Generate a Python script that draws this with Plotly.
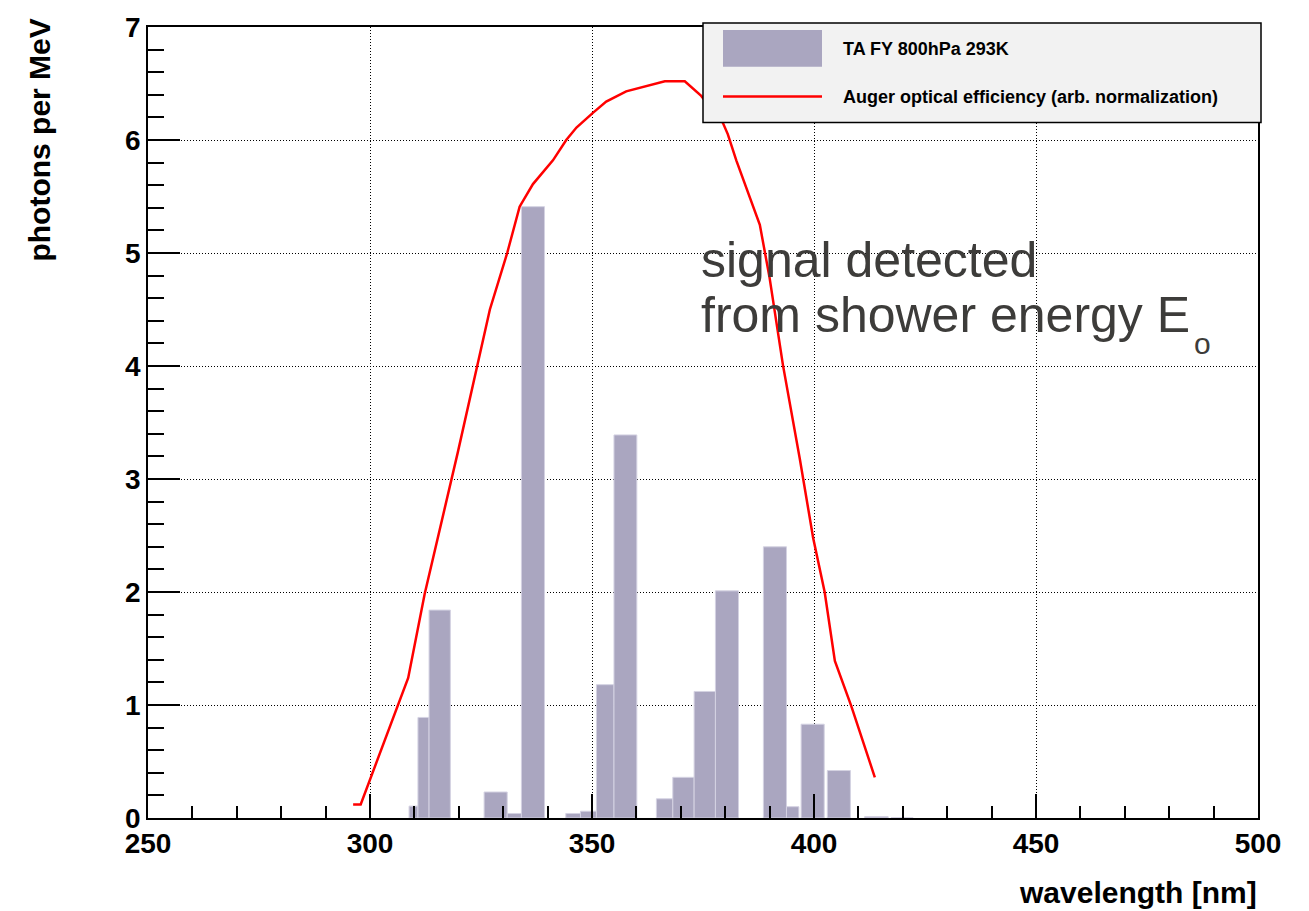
import plotly.graph_objects as go

# ---- data ----
bin_lo = [308.8, 310.8, 313.3, 325.7, 330.9, 334.1, 344.1, 347.4, 351.0, 354.95,
          364.5, 368.2, 373.0, 377.8, 388.6, 393.8, 397.1, 403.0, 411.4, 417.4]
bin_hi = [310.8, 313.3, 318.1, 330.9, 334.1, 339.3, 347.4, 351.0, 354.95, 360.1,
          368.2, 373.0, 377.8, 383.0, 393.8, 396.6, 402.3, 408.2, 416.7, 422.3]
photons = [0.105, 0.89, 1.84, 0.23, 0.04, 5.41, 0.04, 0.06, 1.18, 3.39,
           0.17, 0.36, 1.12, 2.01, 2.40, 0.10, 0.83, 0.42, 0.012, 0.004]

eff_wl = [296.2, 297.9, 308.6, 312.3, 319.8, 324.0, 327.0, 330.9, 333.7, 336.7,
          341.2, 344.2, 346.5, 350.2, 353.2, 357.7, 361.5, 366.4, 370.9, 374.6,
          379.5, 380.6, 382.5, 384.4, 387.8, 390.0, 393.0, 396.8, 399.8, 402.4,
          404.7, 408.4, 413.7]
eff_val = [0.12, 0.12, 1.24, 1.98, 3.24, 3.99, 4.50, 5.00, 5.41, 5.61,
           5.82, 6.00, 6.11, 6.24, 6.34, 6.43, 6.47, 6.52, 6.52, 6.39,
           6.15, 6.05, 5.82, 5.61, 5.25, 4.78, 4.01, 3.18, 2.48, 2.00,
           1.39, 0.99, 0.36]

x_ticks = [250, 300, 350, 400, 450, 500]
y_ticks = [0, 1, 2, 3, 4, 5, 6, 7]

BAR_COLOR = "#aaa6c0"
FONT = "Liberation Sans, Arial, sans-serif"

centers = [(a + b) / 2 for a, b in zip(bin_lo, bin_hi)]
widths = [b - a for a, b in zip(bin_lo, bin_hi)]

fig = go.Figure()
fig.add_trace(go.Bar(x=centers, y=photons, width=widths,
                     marker=dict(color=BAR_COLOR, line=dict(color="#d4d2e2", width=1)),
                     name="TA FY 800hPa 293K", showlegend=False))
fig.add_trace(go.Scatter(x=eff_wl, y=eff_val, mode="lines",
                         line=dict(color="#ff0000", width=2.5),
                         name="Auger optical efficiency (arb. normalization)",
                         showlegend=False))

# plot area in pixels: x 148..1258, y 22..818
L, R, T, B = 148, 1258, 22, 818
def px(x):
    return (x - L) / (R - L)
def py(y):
    return (B - y) / (B - T)

fig.update_layout(
    width=1309, height=911,
    margin=dict(l=L, r=1309 - R, t=T, b=911 - B, pad=0),
    plot_bgcolor="white", paper_bgcolor="white",
    showlegend=False,
    font=dict(family=FONT, color="black"),
)

grid_dash = "1px,2px"
fig.update_xaxes(
    range=[250, 500], tickvals=x_ticks, ticktext=[str(v) for v in x_ticks],
    ticks="inside", ticklen=24, tickwidth=1.5, tickcolor="black",
    showline=True, linecolor="black", linewidth=1.5, mirror=True,
    showgrid=True, gridcolor="black", gridwidth=1, griddash=grid_dash,
    zeroline=False,
    tickfont=dict(family=FONT, size=28, weight="bold", color="black"),
    minor=dict(dtick=10, ticks="inside", ticklen=12, tickwidth=1.5,
               tickcolor="black", showgrid=False),
)
fig.update_yaxes(
    range=[0, 7], tickvals=y_ticks, ticktext=[str(v) for v in y_ticks],
    ticks="inside", ticklen=32, tickwidth=1.5, tickcolor="black",
    showline=True, linecolor="black", linewidth=1.5, mirror=True,
    showgrid=True, gridcolor="black", gridwidth=1, griddash=grid_dash,
    zeroline=False,
    tickfont=dict(family=FONT, size=28, weight="bold", color="black"),
    minor=dict(dtick=0.2, ticks="inside", ticklen=16, tickwidth=1.5,
               tickcolor="black", showgrid=False),
)

# ---- legend box (drawn manually to match the reference layout) ----
shapes = [
    dict(type="rect", xref="paper", yref="paper",
         x0=px(703), x1=px(1261), y0=py(118), y1=py(18),
         fillcolor="#f2f2f2", line=dict(color="black", width=1.5), layer="above"),
    dict(type="rect", xref="paper", yref="paper",
         x0=px(723), x1=px(822), y0=py(62), y1=py(25),
         fillcolor=BAR_COLOR, line=dict(width=0), layer="above"),
    dict(type="line", xref="paper", yref="paper",
         x0=px(723), x1=px(822), y0=py(92), y1=py(92),
         line=dict(color="#ff0000", width=2.5), layer="above"),
]
fig.update_layout(shapes=shapes)

annotations = [
    dict(text="TA FY 800hPa 293K", xref="paper", yref="paper",
         x=px(841), y=py(44), xanchor="left", yanchor="middle", showarrow=False,
         font=dict(family=FONT, size=18, weight="bold", color="black")),
    dict(text="Auger optical efficiency (arb. normalization)", xref="paper", yref="paper",
         x=px(841), y=py(92), xanchor="left", yanchor="middle", showarrow=False,
         font=dict(family=FONT, size=18, weight="bold", color="black")),
    # axis titles
    dict(text="wavelength [nm]", xref="paper", yref="paper",
         x=px(1259), y=py(893), xanchor="right", yanchor="middle", showarrow=False,
         font=dict(family=FONT, size=30, weight="bold", color="black")),
    dict(text="photons per MeV", xref="paper", yref="paper", textangle=-90,
         x=px(40), y=py(12), xanchor="center", yanchor="top", showarrow=False,
         font=dict(family=FONT, size=30, weight="bold", color="black")),
    # inset text
    dict(text="signal detected", xref="paper", yref="paper",
         x=px(699), y=py(256), xanchor="left", yanchor="middle", showarrow=False,
         font=dict(family=FONT, size=50, color="#3d3c3a")),
    dict(text="from shower energy E", xref="paper", yref="paper",
         x=px(699), y=py(312), xanchor="left", yanchor="middle", showarrow=False,
         font=dict(family=FONT, size=50, color="#3d3c3a")),
    dict(text="o", xref="paper", yref="paper",
         x=px(1192), y=py(341), xanchor="left", yanchor="middle", showarrow=False,
         font=dict(family=FONT, size=30, color="#3d3c3a")),
]
fig.update_layout(annotations=annotations)

fig.write_html("out.html")
